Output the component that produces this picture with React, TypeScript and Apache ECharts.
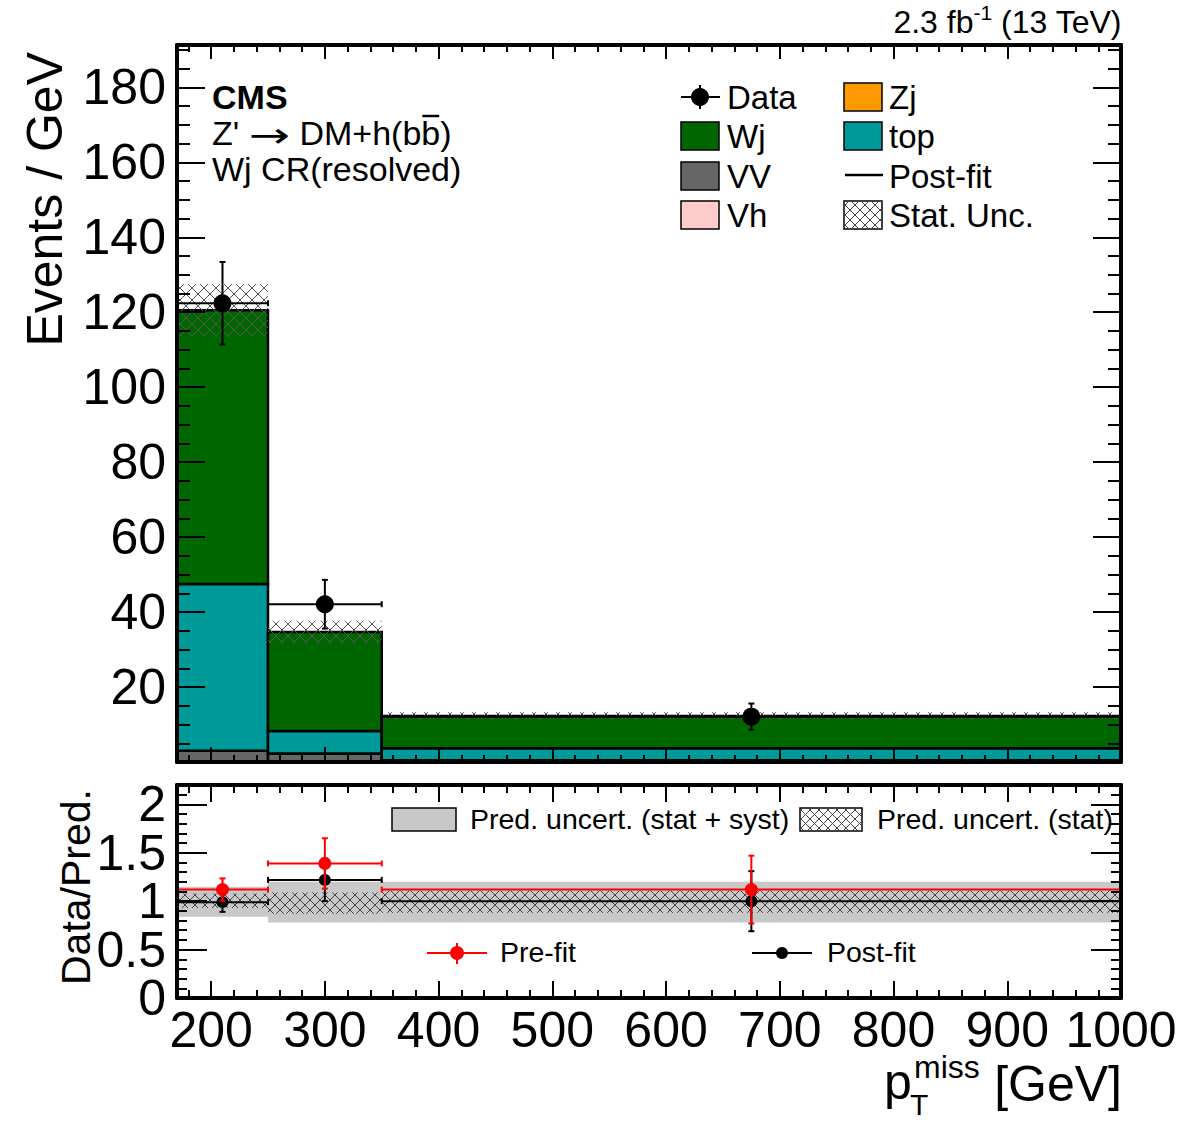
import React, { useEffect, useRef } from 'react';
import * as echarts from 'echarts';

const FONT = "'Liberation Sans', Arial, Helvetica, sans-serif";
const ARROW_FONT = "'DejaVu Sans', sans-serif";

// binning in pTmiss [GeV]
const binEdges = [170, 250, 350, 1000];
const dataX = [210, 300, 675];

// stacked backgrounds (events / GeV)
const vvYield = [3.0, 2.3, 0.5];
const topYield = [44.5, 6.0, 3.2];
const wjYield = [73.0, 26.4, 8.6];
const statUnc = [7.0, 3.0, 1.0];

// observed data (events / GeV)
const dataY = [122.4, 42.1, 12.1];
const dataErr = [11.0, 6.5, 3.5];

// ratio panel
const bandStatSyst = [[0.84, 1.15], [0.78, 1.2], [0.78, 1.2]];
const bandStat = [[0.93, 1.08], [0.87, 1.09], [0.88, 1.11]];
const postfitRatio = [0.99, 1.22, 1.0];
const postfitErr = [0.1, 0.22, 0.31];
const prefitRatio = [1.12, 1.39, 1.12];
const prefitErr = [0.115, 0.26, 0.35];

// axis labels
const xTickLabels = [200, 300, 400, 500, 600, 700, 800, 900, 1000];
const yTickLabels = [20, 40, 60, 80, 100, 120, 140, 160, 180];
const ratioTickLabels = [0, 0.5, 1, 1.5, 2];

const COL_WJ = '#006600';
const COL_TOP = '#009999';
const COL_VV = '#666666';
const COL_VH = '#ffcccc';
const COL_ZJ = '#ff9900';
const COL_BAND = '#c8c8c8';

const X_MIN = 170;
const X_MAX = 1000;
const Y_MAX = 191.3;
const R_MAX = 2.2;

// minor tick positions
const xMinorTicks: number[] = [];
for (let v = 180; v <= 1000; v += 20) if (v % 100 !== 0) xMinorTicks.push(v);
const yMinorTicks: number[] = [];
for (let v = 5; v <= 190; v += 5) if (v % 20 !== 0) yMinorTicks.push(v);
const rMinorTicks: number[] = [];
for (let i = 1; i <= 22; i++) if (i % 5 !== 0) rMinorTicks.push(i / 10);
const yMajorTicks = [0, ...yTickLabels];
// ratio labels are split over two overlapping axes so that neighbouring labels never get culled
const ratioWholeLabels = ratioTickLabels.filter((v) => Number.isInteger(v));
const ratioHalfLabels = ratioTickLabels.filter((v) => !Number.isInteger(v));

let measureCtx: CanvasRenderingContext2D | null = null;
function textWidth(text: string, size: number, weight = 'normal', family = FONT) {
  if (!measureCtx) measureCtx = document.createElement('canvas').getContext('2d');
  if (!measureCtx) return text.length * size * 0.55;
  measureCtx.font = `${weight} ${size}px ${family}`;
  return measureCtx.measureText(text).width;
}

// cross-hatch segments clipped to a rectangle, anchored to page pixels
function hatchLines(x: number, y: number, w: number, h: number, step: number, color: string, z?: number) {
  const out: any[] = [];
  const push = (x1: number, y1: number, x2: number, y2: number) => {
    const el: any = { type: 'line', shape: { x1, y1, x2, y2 }, style: { stroke: color, lineWidth: 1 } };
    if (z !== undefined) el.z = z;
    out.push(el);
  };
  const a0 = Math.ceil((x + y) / step) * step;
  for (let c = a0; c <= x + w + y + h; c += step) {
    const s = Math.max(x, c - (y + h));
    const e = Math.min(x + w, c - y);
    if (e > s) push(s, c - s, e, c - e);
  }
  const b0 = Math.ceil((y - (x + w)) / step) * step;
  for (let c = b0; c <= y + h - x; c += step) {
    const s = Math.max(x, y - c);
    const e = Math.min(x + w, y + h - c);
    if (e > s) push(s, c + s, e, c + e);
  }
  return out;
}

function rectOf(api: any) {
  const p0 = api.coord([api.value(0), api.value(2)]);
  const p1 = api.coord([api.value(1), api.value(3)]);
  return { x: p0[0], y: p1[1], w: p1[0] - p0[0], h: p0[1] - p1[1] };
}

function pointRenderer(color: string, r: number, cap: number) {
  return (_params: any, api: any) => {
    const xc = api.value(0);
    const yv = api.value(1);
    const err = api.value(2);
    const pc = api.coord([xc, yv]);
    const up = api.coord([xc, yv + err]);
    const dn = api.coord([xc, yv - err]);
    const pl = api.coord([api.value(3), yv]);
    const pr = api.coord([api.value(4), yv]);
    const st = { stroke: color, lineWidth: 2 };
    const ln = (x1: number, y1: number, x2: number, y2: number) => ({ type: 'line', shape: { x1, y1, x2, y2 }, style: st });
    return {
      type: 'group',
      children: [
        ln(pl[0], pc[1], pr[0], pc[1]),
        ln(pl[0], pc[1] - cap, pl[0], pc[1] + cap),
        ln(pr[0], pc[1] - cap, pr[0], pc[1] + cap),
        ln(pc[0], up[1], pc[0], dn[1]),
        ln(pc[0] - cap, up[1], pc[0] + cap, up[1]),
        ln(pc[0] - cap, dn[1], pc[0] + cap, dn[1]),
        { type: 'circle', shape: { cx: pc[0], cy: pc[1], r }, style: { fill: color } },
      ],
    };
  };
}

const plainLabel = (v: number) => String(v);

function xAxisDef(gridIndex: number, position: string, ticks: number[], len: number, line: boolean, labels?: number[]) {
  return {
    type: 'value', gridIndex, position, min: X_MIN, max: X_MAX, z: 10,
    axisLine: { show: line, onZero: false, lineStyle: { color: '#000', width: 4 } },
    axisTick: { show: true, inside: true, length: len, customValues: ticks, lineStyle: { color: '#000', width: 2 } },
    axisLabel: labels
      ? {
          show: true, customValues: labels, formatter: plainLabel, showMinLabel: true, showMaxLabel: true, hideOverlap: false,
          fontSize: 50, lineHeight: 40, fontFamily: FONT, color: '#000', margin: 12,
        }
      : { show: false },
    splitLine: { show: false },
  };
}

function yAxisDef(gridIndex: number, position: string, max: number, ticks: number[], len: number, line: boolean, labels?: number[]) {
  return {
    type: 'value', gridIndex, position, min: 0, max, z: 10,
    axisLine: { show: line, onZero: false, lineStyle: { color: '#000', width: 4 } },
    axisTick: { show: true, inside: true, length: len, customValues: ticks, lineStyle: { color: '#000', width: 2 } },
    axisLabel: labels
      ? {
          show: true, customValues: labels, formatter: plainLabel, showMinLabel: true, showMaxLabel: true, hideOverlap: false,
          interval: 0, fontSize: 50, lineHeight: 38, fontFamily: FONT, color: '#000', margin: 11,
        }
      : { show: false },
    splitLine: { show: false },
  };
}

function buildOption() {
  const nBins = dataX.length;
  const stackRows: any[] = [];
  const comps = [vvYield, topYield, wjYield];
  for (let b = 0; b < nBins; b++) {
    let base = 0;
    comps.forEach((arr, ci) => {
      stackRows.push([binEdges[b], binEdges[b + 1], base, base + arr[b], ci]);
      base += arr[b];
    });
  }
  const compColors = [COL_VV, COL_TOP, COL_WJ];
  const totals = dataX.map((_, b) => vvYield[b] + topYield[b] + wjYield[b]);
  const uncRows = totals.map((t, b) => [binEdges[b], binEdges[b + 1], t - statUnc[b], t + statUnc[b]]);
  const dataRows = dataX.map((x, b) => [x, dataY[b], dataErr[b], binEdges[b], binEdges[b + 1]]);

  const bandRows = bandStatSyst.map((v, b) => [binEdges[b], binEdges[b + 1], v[0], v[1]]);
  const statRows = bandStat.map((v, b) => [binEdges[b], binEdges[b + 1], v[0], v[1]]);
  const postRows = dataX.map((x, b) => [x, postfitRatio[b], postfitErr[b], binEdges[b], binEdges[b + 1]]);
  const preRows = dataX.map((x, b) => [x, prefitRatio[b], prefitErr[b], binEdges[b], binEdges[b + 1]]);

  // --- overlay texts and legends ---
  const g: any[] = [];
  const txt = (x: number, y: number, text: string, size: number, extra: any = {}) =>
    g.push({
      type: 'text', x, y, z: 30,
      style: {
        text, fontSize: size, lineHeight: Math.round(size * 0.9), fontFamily: FONT, fill: '#000',
        textAlign: 'left', textVerticalAlign: 'middle', ...extra,
      },
    });

  // luminosity label
  const lumi1 = '2.3 fb';
  const lumiSup = '-1';
  const lumi3 = ' (13 TeV)';
  const lw1 = textWidth(lumi1, 32);
  const lw2 = textWidth(lumiSup, 21);
  const lw3 = textWidth(lumi3, 32);
  const lx = 1122 - (lw1 + lw2 + lw3);
  txt(lx, 22, lumi1, 32);
  txt(lx + lw1, 12, lumiSup, 21);
  txt(lx + lw1 + lw2, 22, lumi3, 32);

  // CMS label block
  txt(212, 97, 'CMS', 34, { fontWeight: 'bold' });
  const zA = "Z' ";
  const zArrow = '\u2192';
  const zB = ' DM+h(b';
  const arrowScale = 1.45;
  const wA = textWidth(zA, 34);
  const wArrow = textWidth(zArrow, 34, 'normal', ARROW_FONT) * arrowScale;
  const wB = textWidth(zB, 34);
  const bw = textWidth('b', 34);
  txt(212, 133, zA, 34);
  g.push({
    type: 'text', x: 212 + wA, y: 135, scaleX: arrowScale, z: 30,
    style: { text: zArrow, fontSize: 34, lineHeight: 30, fontFamily: ARROW_FONT, fill: '#000', textAlign: 'left', textVerticalAlign: 'middle' },
  });
  txt(212 + wA + wArrow, 133, zB + 'b)', 34);
  const ob = 212 + wA + wArrow + wB;
  g.push({ type: 'line', z: 30, shape: { x1: ob + 1, y1: 116, x2: ob + bw - 1, y2: 116 }, style: { stroke: '#000', lineWidth: 2.5 } });
  txt(212, 169, 'Wj CR(resolved)', 34);

  // axis titles
  g.push({
    type: 'text', x: 45, y: 52, rotation: Math.PI / 2, z: 30,
    style: { text: 'Events / GeV', fontSize: 50, fontFamily: FONT, fill: '#000', textAlign: 'right', textVerticalAlign: 'middle' },
  });
  g.push({
    type: 'text', x: 76, y: 789, rotation: Math.PI / 2, z: 30,
    style: { text: 'Data/Pred.', fontSize: 41, lineHeight: 36, fontFamily: FONT, fill: '#000', textAlign: 'right', textVerticalAlign: 'middle' },
  });
  txt(1122, 1084, '[GeV]', 50, { textAlign: 'right' });
  txt(884, 1082, 'p', 50);
  txt(910, 1104, 'T', 30);
  txt(914, 1067, 'miss', 32);

  // main legend
  const box = (x: number, y: number, fill: string) =>
    g.push({ type: 'rect', z: 30, shape: { x, y, width: 38, height: 28 }, style: { fill, stroke: '#000', lineWidth: 1.5 } });
  const rows = [97, 136, 176, 215];
  // Data marker
  g.push({ type: 'line', z: 30, shape: { x1: 681, y1: rows[0], x2: 720, y2: rows[0] }, style: { stroke: '#000', lineWidth: 2 } });
  g.push({ type: 'line', z: 30, shape: { x1: 700, y1: rows[0] - 12, x2: 700, y2: rows[0] + 12 }, style: { stroke: '#000', lineWidth: 2 } });
  g.push({ type: 'circle', z: 30, shape: { cx: 700, cy: rows[0], r: 9 }, style: { fill: '#000' } });
  txt(727, rows[0], 'Data', 33);
  box(681, rows[1] - 14, COL_WJ);
  txt(727, rows[1], 'Wj', 33);
  box(681, rows[2] - 14, COL_VV);
  txt(727, rows[2], 'VV', 33);
  box(681, rows[3] - 14, COL_VH);
  txt(727, rows[3], 'Vh', 33);
  box(844, rows[0] - 14, COL_ZJ);
  txt(889, rows[0], 'Zj', 33);
  box(844, rows[1] - 14, COL_TOP);
  txt(889, rows[1], 'top', 33);
  g.push({ type: 'line', z: 30, shape: { x1: 845, y1: rows[2] - 1, x2: 883, y2: rows[2] - 1 }, style: { stroke: '#000', lineWidth: 2.5 } });
  txt(889, rows[2], 'Post-fit', 33);
  box(844, rows[3] - 14, '#fff');
  hatchLines(844, rows[3] - 14, 38, 28, 10, '#444', 31).forEach((el) => g.push(el));
  txt(889, rows[3], 'Stat. Unc.', 33);

  // ratio legend
  g.push({ type: 'rect', z: 30, shape: { x: 392, y: 808, width: 64, height: 23 }, style: { fill: COL_BAND, stroke: '#000', lineWidth: 1.5 } });
  txt(470, 819, 'Pred. uncert. (stat + syst)', 28.5);
  g.push({ type: 'rect', z: 30, shape: { x: 800, y: 808, width: 62, height: 23 }, style: { fill: '#fff', stroke: '#000', lineWidth: 1.5 } });
  hatchLines(800, 808, 62, 23, 9, '#444', 31).forEach((el) => g.push(el));
  txt(877, 819, 'Pred. uncert. (stat)', 28.5);

  g.push({ type: 'line', z: 30, shape: { x1: 427, y1: 953, x2: 487, y2: 953 }, style: { stroke: '#ff0000', lineWidth: 2 } });
  g.push({ type: 'line', z: 30, shape: { x1: 457, y1: 943, x2: 457, y2: 964 }, style: { stroke: '#ff0000', lineWidth: 2 } });
  g.push({ type: 'circle', z: 30, shape: { cx: 457, cy: 953, r: 7 }, style: { fill: '#ff0000' } });
  txt(500, 952, 'Pre-fit', 28.5);
  g.push({ type: 'line', z: 30, shape: { x1: 752, y1: 953, x2: 812, y2: 953 }, style: { stroke: '#000', lineWidth: 2 } });
  g.push({ type: 'circle', z: 30, shape: { cx: 782, cy: 953, r: 6 }, style: { fill: '#000' } });
  txt(827, 952, 'Post-fit', 28.5);

  return {
    animation: false,
    backgroundColor: '#fff',
    grid: [
      { left: 177, top: 45, width: 944, height: 717, outerBoundsMode: 'none', containLabel: false },
      { left: 177, top: 785, width: 944, height: 213, outerBoundsMode: 'none', containLabel: false },
    ],
    xAxis: [
      xAxisDef(0, 'bottom', xTickLabels, 15, true),
      xAxisDef(0, 'bottom', xMinorTicks, 7, false),
      xAxisDef(0, 'top', xTickLabels, 14, true),
      xAxisDef(0, 'top', xMinorTicks, 7, false),
      xAxisDef(1, 'bottom', xTickLabels, 17, true, xTickLabels),
      xAxisDef(1, 'bottom', xMinorTicks, 8, false),
      xAxisDef(1, 'top', xTickLabels, 17, true),
      xAxisDef(1, 'top', xMinorTicks, 8, false),
    ],
    yAxis: [
      yAxisDef(0, 'left', Y_MAX, yMajorTicks, 28, true, yTickLabels),
      yAxisDef(0, 'left', Y_MAX, yMinorTicks, 13, false),
      yAxisDef(0, 'right', Y_MAX, yMajorTicks, 28, true),
      yAxisDef(0, 'right', Y_MAX, yMinorTicks, 13, false),
      yAxisDef(1, 'left', R_MAX, ratioTickLabels, 30, true, ratioWholeLabels),
      yAxisDef(1, 'left', R_MAX, rMinorTicks, 10, false, ratioHalfLabels),
      yAxisDef(1, 'right', R_MAX, ratioTickLabels, 30, true),
      yAxisDef(1, 'right', R_MAX, rMinorTicks, 10, false),
    ],
    series: [
      {
        type: 'custom', name: 'stack', xAxisIndex: 0, yAxisIndex: 0, silent: true, z: 2,
        data: stackRows,
        renderItem: (_p: any, api: any) => {
          const r = rectOf(api);
          return {
            type: 'rect',
            shape: { x: r.x, y: r.y, width: r.w, height: r.h },
            style: { fill: compColors[api.value(4)], stroke: '#000', lineWidth: 2.5 },
          };
        },
      },
      {
        type: 'custom', name: 'Stat. Unc.', xAxisIndex: 0, yAxisIndex: 0, silent: true, z: 3,
        data: uncRows,
        renderItem: (_p: any, api: any) => {
          const r = rectOf(api);
          return { type: 'group', children: hatchLines(r.x, r.y, r.w, r.h, 12, '#555') };
        },
      },
      {
        type: 'custom', name: 'Data', xAxisIndex: 0, yAxisIndex: 0, silent: true, z: 4,
        data: dataRows,
        renderItem: pointRenderer('#000', 9, 3),
      },
      {
        type: 'custom', name: 'band', xAxisIndex: 4, yAxisIndex: 4, silent: true, z: 2,
        data: bandRows,
        renderItem: (_p: any, api: any) => {
          const r = rectOf(api);
          return { type: 'rect', shape: { x: r.x, y: r.y, width: r.w, height: r.h }, style: { fill: COL_BAND } };
        },
      },
      {
        type: 'custom', name: 'statBand', xAxisIndex: 4, yAxisIndex: 4, silent: true, z: 3,
        data: statRows,
        renderItem: (_p: any, api: any) => {
          const r = rectOf(api);
          return { type: 'group', children: hatchLines(r.x, r.y, r.w, r.h, 10, '#444') };
        },
      },
      {
        type: 'custom', name: 'Post-fit', xAxisIndex: 4, yAxisIndex: 4, silent: true, z: 4,
        data: postRows,
        renderItem: pointRenderer('#000', 6, 3),
      },
      {
        type: 'custom', name: 'Pre-fit', xAxisIndex: 4, yAxisIndex: 4, silent: true, z: 5,
        data: preRows,
        renderItem: pointRenderer('#ff0000', 6.5, 3),
      },
    ],
    graphic: g,
  };
}

export default function App() {
  const ref = useRef<HTMLDivElement>(null);
  useEffect(() => {
    if (!ref.current) return;
    const chart = echarts.init(ref.current, null, { renderer: 'svg' });
    chart.setOption(buildOption() as any);
    return () => chart.dispose();
  }, []);
  return (
    <div
      ref={ref}
      style={{ position: 'absolute', left: 0, top: 0, width: 1182, height: 1123, background: '#fff' }}
    />
  );
}
